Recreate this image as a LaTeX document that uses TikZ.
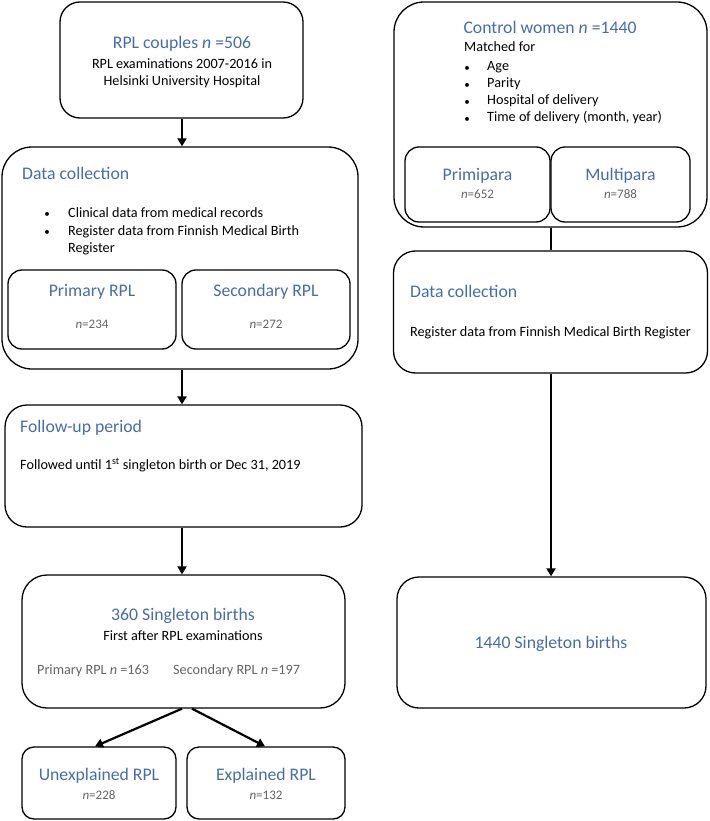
\documentclass[tikz,border=0pt]{standalone}
\usepackage{fontspec}
\setmainfont{Carlito}
\usetikzlibrary{arrows.meta,calc}
\definecolor{ttl}{RGB}{72,108,168}
\definecolor{gry}{RGB}{100,100,100}
\begin{document}
\begin{tikzpicture}[x=1pt,y=-1pt,
  box/.style={draw=black,line width=1.3pt,rectangle,inner sep=0pt},
  ttext/.style={text=ttl,font=\fontsize{17.7}{20}\selectfont,inner sep=0pt,anchor=mid,yshift=-1.5pt},
  btext/.style={text=black,font=\fontsize{14.2}{16}\selectfont,inner sep=0pt,anchor=mid,yshift=-1.5pt},
  dot/.style={text=black,font=\fontsize{11}{12}\selectfont,inner sep=0pt,anchor=center},
  ntext/.style={text=gry,font=\fontsize{13}{15}\selectfont,inner sep=0pt,anchor=mid,yshift=-1.5pt},
  stext/.style={text=gry,font=\fontsize{14.2}{16}\selectfont,inner sep=0pt,anchor=mid west,yshift=-1.5pt},
  arr/.style={line width=2.2pt,-{Triangle[length=8pt,width=9pt]}},
  lin/.style={line width=2.2pt}]
\useasboundingbox (0,0) rectangle (709,821);
% left column boxes
\node[box,rounded corners=20pt,minimum width=243pt,minimum height=116pt] (b1) at (181.5,60) {};
\node[box,rounded corners=30pt,minimum width=356pt,minimum height=222pt] (b2) at (180,258) {};
\node[box,rounded corners=14pt,minimum width=168pt,minimum height=79pt] (p1) at (92,309.5) {};
\node[box,rounded corners=14pt,minimum width=168pt,minimum height=79pt] (p2) at (266,309.5) {};
\node[box,rounded corners=22pt,minimum width=357pt,minimum height=122pt] (b3) at (183.5,466) {};
\node[box,rounded corners=25pt,minimum width=323pt,minimum height=133pt] (b4) at (183.5,641.5) {};
\node[box,rounded corners=12pt,minimum width=154pt,minimum height=72pt] (u1) at (99,783) {};
\node[box,rounded corners=12pt,minimum width=158pt,minimum height=72pt] (u2) at (266,783) {};
% right column boxes
\node[box,rounded corners=30pt,minimum width=313pt,minimum height=225pt] (c1) at (550.5,114.5) {};
\node[box,rounded corners=14pt,minimum width=145pt,minimum height=75pt] (m1) at (477.5,184.5) {};
\node[box,rounded corners=14pt,minimum width=139pt,minimum height=75pt] (m2) at (620.5,184.5) {};
\node[box,rounded corners=22pt,minimum width=314pt,minimum height=122pt] (c2) at (550.5,312) {};
\node[box,rounded corners=22pt,minimum width=309pt,minimum height=131pt] (c3) at (551.5,642.5) {};
% texts box 1
\node[ttext] (t1) at (182,45) {RPL couples \textit{n} =506};
\node[btext] (t1a) at (182,65) {RPL examinations 2007-2016 in};
\node[btext] (t1b) at (182,81.5) {Helsinki University Hospital};
% box 2
\node[ttext,anchor=mid west] (t2) at (22,176) {Data collection};
\node[dot] (t2d1) at (47,215) {•};
\node[btext,anchor=mid west] (t2a) at (68,214) {Clinical data from medical records};
\node[dot] (t2d2) at (47,233) {•};
\node[btext,anchor=mid west] (t2b) at (68,232) {Register data from Finnish Medical Birth};
\node[btext,anchor=mid west] (t2c) at (68,249) {Register};
\node[ttext] (tp1) at (92,293) {Primary RPL};
\node[ntext] (tp1n) at (92,325) {\textit{n}=234};
\node[ttext] (tp2) at (266,293) {Secondary RPL};
\node[ntext] (tp2n) at (266,325) {\textit{n}=272};
% box 3
\node[ttext,anchor=mid west] (t3) at (20,429) {Follow-up period};
\node[btext,anchor=mid west] (t3a) at (20,466) {Followed until 1\textsuperscript{st} singleton birth or Dec 31, 2019};
% box 4
\node[ttext] (t4) at (183,617) {360 Singleton births};
\node[btext] (t4a) at (183,637) {First after RPL examinations};
\node[stext] (t4b) at (37,671) {Primary RPL \textit{n} =163};
\node[stext] (t4c) at (173,671) {Secondary RPL \textit{n} =197};
% box u
\node[ttext] (tu1) at (99,777) {Unexplained RPL};
\node[ntext] (tu1n) at (99,796) {\textit{n}=228};
\node[ttext] (tu2) at (266,777) {Explained RPL};
\node[ntext] (tu2n) at (266,796) {\textit{n}=132};
% right texts
\node[ttext] (tc1) at (550,30) {Control women \textit{n} =1440};
\node[btext,anchor=mid west] (tc1a) at (464,48) {Matched for};
\node[dot] (d1) at (467,69) {•};
\node[btext,anchor=mid west] (e1) at (487,67) {Age};
\node[dot] (d2) at (467,85.5) {•};
\node[btext,anchor=mid west] (e2) at (487,84) {Parity};
\node[dot] (d3) at (467,102.5) {•};
\node[btext,anchor=mid west] (e3) at (487,101) {Hospital of delivery};
\node[dot] (d4) at (467,119.5) {•};
\node[btext,anchor=mid west] (e4) at (487,118) {Time of delivery (month, year)};
\node[ttext] (tm1) at (477.5,177) {Primipara};
\node[ntext] (tm1n) at (477.5,195) {\textit{n}=652};
\node[ttext] (tm2) at (620.5,177) {Multipara};
\node[ntext] (tm2n) at (620.5,195) {\textit{n}=788};
\node[ttext,anchor=mid west] (tc2) at (410,294) {Data collection};
\node[btext,anchor=mid west] (tc2a) at (410,333) {Register data from Finnish Medical Birth Register};
\node[ttext] (tc3) at (551,645) {1440 Singleton births};
% connectors
\coordinate (lx) at (182,0);
\draw[arr] (b1.south -| lx) -- (b2.north -| lx);
\draw[arr] (b2.south -| lx) -- (b3.north -| lx);
\draw[arr] (b3.south -| lx) -- (b4.north -| lx);
\draw[arr] ($(b4.south)+(-1.5,0)$) -- ($(u1.north)+(-4,0)$);
\draw[arr] ($(b4.south)+(8.5,0)$) -- ($(u2.north)+(-1,0)$);
\coordinate (rx) at (551,0);
\draw[lin] (c1.south -| rx) -- (c2.north -| rx);
\draw[arr] (c2.south -| rx) -- (c3.north -| rx);
\end{tikzpicture}
\end{document}
